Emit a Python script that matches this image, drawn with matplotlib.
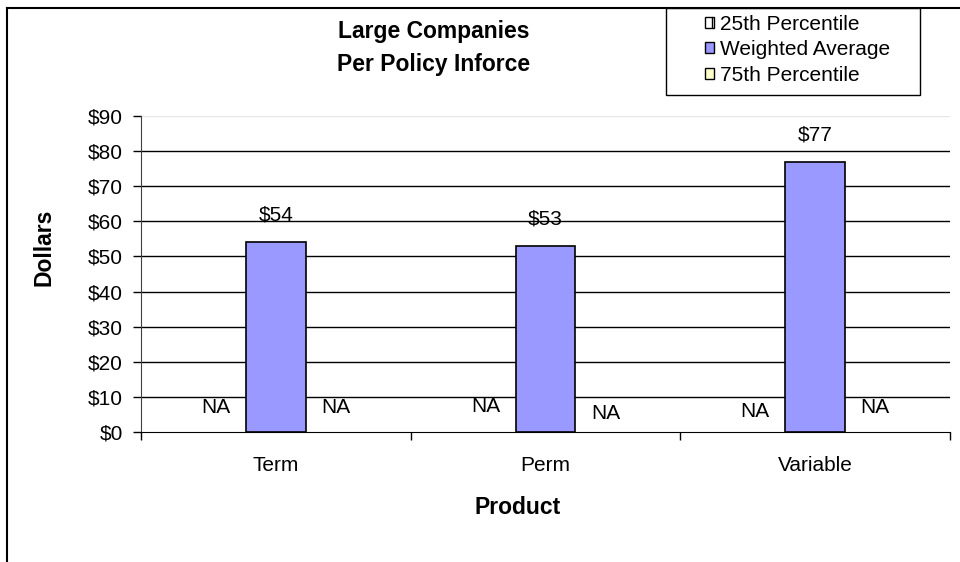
import matplotlib
matplotlib.use("Agg")
import matplotlib.pyplot as plt
from matplotlib.lines import Line2D
from matplotlib.patches import Rectangle, Patch

# data
products = ["Term", "Perm", "Variable"]
series_names = ["25th Percentile", "Weighted Average", "75th Percentile"]
p25 = [0, 0, 0]          # shown as NA
weighted = [54, 53, 77]
p75 = [0, 0, 0]          # shown as NA
value_labels = ["$54", "$53", "$77"]
na_left_y = [7.1, 7.4, 5.9]
na_right_y = [7.1, 5.4, 7.1]
y_ticks = [0, 10, 20, 30, 40, 50, 60, 70, 80, 90]
y_ticklabels = ["$" + str(v) for v in y_ticks]

plt.rcParams['font.family'] = ['Liberation Sans', 'DejaVu Sans']
plt.rcParams['font.size'] = 15
plt.rcParams['hatch.color'] = "#993366"

W, H = 960, 562
fig = plt.figure(figsize=(9.6, 5.62), dpi=100)
ax = fig.add_axes([141 / W, 1 - 432 / H, (950 - 141) / W, (432 - 116) / H])

colors = ["#FFFFFF", "#9999FF", "#FFFFCC"]
bw = 60 / 270
centers = [i + 0.5 for i in range(len(products))]

ax.bar([c - bw for c in centers], p25, width=bw, color=colors[0], linewidth=0)
ax.bar(centers, weighted, width=bw, color=colors[1], edgecolor="black", linewidth=1.2, zorder=3)
ax.bar([c + bw for c in centers], p75, width=bw, color=colors[2], linewidth=0)

for c, v, lab in zip(centers, weighted, value_labels):
    ax.text(c, v + 7.7, lab, ha="center", va="center", fontsize=15, zorder=4)
for c, yl, yr in zip(centers, na_left_y, na_right_y):
    ax.text(c - bw, yl, "NA", ha="center", va="center", fontsize=15, zorder=4)
    ax.text(c + bw, yr, "NA", ha="center", va="center", fontsize=15, zorder=4)

ax.set_xlim(0, 3)
ax.set_ylim(0, 90)
ax.set_yticks(y_ticks)
ax.set_yticklabels(y_ticklabels)
ax.tick_params(axis="y", length=6, width=1, pad=7, direction="out")

# gridlines
for v in y_ticks[1:-1]:
    ax.axhline(v, color="black", linewidth=1, zorder=1)
ax.axhline(90, color="#E6E6E6", linewidth=1, zorder=1)

ax.set_xticks([0, 1, 2, 3])
ax.set_xticklabels([])
ax.set_xticks(centers, minor=True)
ax.set_xticklabels(products, minor=True)
ax.tick_params(axis="x", which="major", length=6, width=1, direction="out")
ax.tick_params(axis="x", which="minor", length=0, pad=17)

for s in ["top", "right"]:
    ax.spines[s].set_visible(False)
ax.spines["left"].set_color("#404040")
ax.spines["bottom"].set_color("black")

# titles and axis labels
fig.text(434 / W, 1 - 48 / H, "Large Companies\nPer Policy Inforce", ha="center", va="center",
         fontsize=16.5, fontweight="bold", linespacing=1.6)
fig.text(518 / W, 1 - 507 / H, "Product", ha="center", va="center", fontsize=16.5, fontweight="bold")
fig.text(44 / W, 1 - 247 / H, "Dollars", ha="center", va="center", fontsize=16.5,
         fontweight="bold", rotation=90)

# outer border
fig.add_artist(Line2D([7 / W, 7 / W], [0, 1 - 8 / H], color="black", linewidth=1.5))
fig.add_artist(Line2D([7 / W, 1], [1 - 8 / H, 1 - 8 / H], color="black", linewidth=1.5))

# legend box
fig.add_artist(Rectangle((666 / W, 1 - 95 / H), (920 - 666) / W, (95 - 8) / H,
                         transform=fig.transFigure, facecolor="white", edgecolor="black", linewidth=1))
handles = [Patch(facecolor="white", edgecolor="black", hatch="||"),
           Patch(facecolor=colors[1], edgecolor="black"),
           Patch(facecolor=colors[2], edgecolor="black")]
fig.legend(handles, series_names, loc="upper left", bbox_to_anchor=(690 / W, 1.0),
           frameon=False, handlelength=0.45, handleheight=0.45, handletextpad=0.3,
           labelspacing=0.32, fontsize=15, borderpad=0.2)

fig.savefig("out.png", dpi=100)
